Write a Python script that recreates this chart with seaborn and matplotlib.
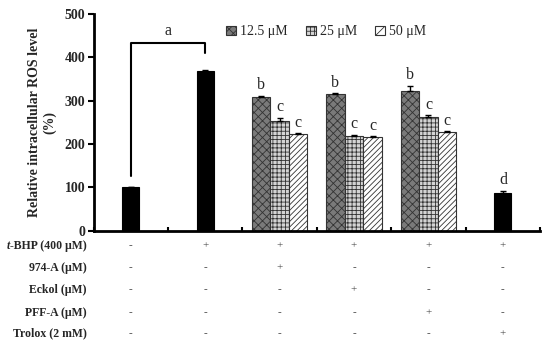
import numpy as np
import pandas as pd
import matplotlib
matplotlib.use('Agg')
import matplotlib.pyplot as plt
import seaborn as sns

# categories (x slots) and values
categories = ['ctrl', 'tbhp', '974-A', 'Eckol', 'PFF-A', 'Trolox']
single_cats = ['ctrl', 'tbhp', 'Trolox']
single_vals = [100, 369, 88]
single_err = [1.5, 2.5, 4]

group_cats = ['974-A', 'Eckol', 'PFF-A']
doses = ['12.5 \u03bcM', '25 \u03bcM', '50 \u03bcM']
vals_12 = [309, 315, 322]
vals_25 = [254, 219, 263]
vals_50 = [223, 216, 228]
err_12 = [2, 2, 12]
err_25 = [7, 2, 3]
err_50 = [2, 1.5, 1.5]

letters_single = ['', 'a', 'd']
letters_12 = ['b', 'b', 'b']
letters_25 = ['c', 'c', 'c']
letters_50 = ['c', 'c', 'c']

row_labels = ['-BHP (400 \u03bcM)', '974-A (\u03bcM)', 'Eckol (\u03bcM)', 'PFF-A (\u03bcM)', 'Trolox (2 mM)']
signs = [['-', '+', '+', '+', '+', '+'],
         ['-', '-', '+', '-', '-', '-'],
         ['-', '-', '-', '+', '-', '-'],
         ['-', '-', '-', '-', '+', '-'],
         ['-', '-', '-', '-', '-', '+']]

sns.set_style('white')
plt.rcParams['font.family'] = ['Liberation Serif', 'DejaVu Serif']
plt.rcParams['hatch.linewidth'] = 0.6

fig = plt.figure(figsize=(5.5, 3.55), dpi=100)
ax = fig.add_axes([0.17, 0.35, 0.812, 0.6106])

df_single = pd.DataFrame({'cat': single_cats, 'val': single_vals})
sns.barplot(data=df_single, x='cat', y='val', order=categories, color='black',
            width=0.23, errorbar=None, ax=ax, edgecolor='black', linewidth=0.8)

df_grp = pd.DataFrame({
    'cat': group_cats * 3,
    'dose': [doses[0]] * 3 + [doses[1]] * 3 + [doses[2]] * 3,
    'val': vals_12 + vals_25 + vals_50,
})
sns.barplot(data=df_grp, x='cat', y='val', hue='dose', order=categories, hue_order=doses,
            width=0.75, errorbar=None, ax=ax, edgecolor='black', linewidth=0.8)

styles = [('#7a7a7a', 'xxxx'), ('#d4d4d4', '++++'), ('white', '//////')]
containers = ax.containers
single_cont = containers[0]
grp_conts = containers[1:]
for cont, (fc, h) in zip(grp_conts, styles):
    for p in cont:
        p.set_facecolor(fc)
        p.set_hatch(h)
        p.set_edgecolor('#333333')

def annotate(cont, vals, errs, letters):
    xs = [p.get_x() + p.get_width() / 2 for p in cont if p.get_height() > 0]
    ax.errorbar(xs, vals, yerr=[np.zeros(len(vals)), errs], fmt='none', ecolor='black',
                elinewidth=1, capsize=2.5, capthick=1)
    for x, v, e, l in zip(xs, vals, errs, letters):
        if l and l != 'a':
            ax.text(x, v + e + 6, l, ha='center', va='bottom', fontsize=11.5)

annotate(single_cont, single_vals, single_err, letters_single)
annotate(grp_conts[0], vals_12, err_12, letters_12)
annotate(grp_conts[1], vals_25, err_25, letters_25)
annotate(grp_conts[2], vals_50, err_50, letters_50)

# bracket for "a"
x0, x1 = 0, 1
ax.plot([x0, x0, x1, x1], [126, 434, 434, 410], color='black', lw=1.5)
ax.text((x0 + x1) / 2, 443, 'a', ha='center', va='bottom', fontsize=11.5)

ax.set_ylim(0, 500)
ax.set_xlim(-0.5, 5.5)
ax.set_yticks([0, 100, 200, 300, 400, 500])
ax.set_yticklabels(['0', '100', '200', '300', '400', '500'], fontweight='bold', fontsize=10)
ax.set_xticks(np.arange(-0.5, 5.6, 1))
ax.set_xticklabels([])
ax.tick_params(axis='x', direction='in', length=3, width=1.5, color='black', bottom=True)
ax.tick_params(axis='y', direction='out', length=4, width=1.5, color='black', left=True, pad=2)
ax.set_xlabel('')
ax.set_ylabel('Relative intracellular ROS level\n(%)', fontweight='bold', fontsize=10, labelpad=6)
sns.despine(ax=ax)
for s in ['left', 'bottom']:
    ax.spines[s].set_linewidth(2)
    ax.spines[s].set_color('black')

handles, labels = ax.get_legend_handles_labels()
leg = ax.legend(handles, labels, loc='center left', bbox_to_anchor=(0.285, 0.918), ncol=3,
                frameon=False, handlelength=0.7, handleheight=0.7, handletextpad=0.3,
                columnspacing=1.3, borderaxespad=0, prop={'size': 10})
for patch, (fc, h) in zip(leg.get_patches(), styles):
    patch.set_facecolor(fc)
    patch.set_hatch(h.replace('//////', '///'))
    patch.set_edgecolor('#333333')

# treatment table under the axis
trans = ax.get_xaxis_transform()
row_y = [-0.069, -0.171, -0.272, -0.378, -0.475]
fig.canvas.draw()
renderer = fig.canvas.get_renderer()
for ry, lab, row in zip(row_y, row_labels, signs):
    t = ax.text(-0.015, ry, lab, transform=ax.transAxes, ha='right', va='center',
                fontsize=8.5, fontweight='bold')
    if lab.startswith('-BHP'):
        bb = t.get_window_extent(renderer)
        x_left = ax.transAxes.inverted().transform((bb.x0, bb.y0))[0]
        ax.text(x_left, ry, 't', transform=ax.transAxes, ha='right', va='center',
                fontsize=8.5, fontweight='bold', style='italic')
    for i, s in enumerate(row):
        ax.text(i, ry, s, transform=trans, ha='center', va='center', fontsize=8, color='#444444')

fig.savefig('out.png', dpi=100)
